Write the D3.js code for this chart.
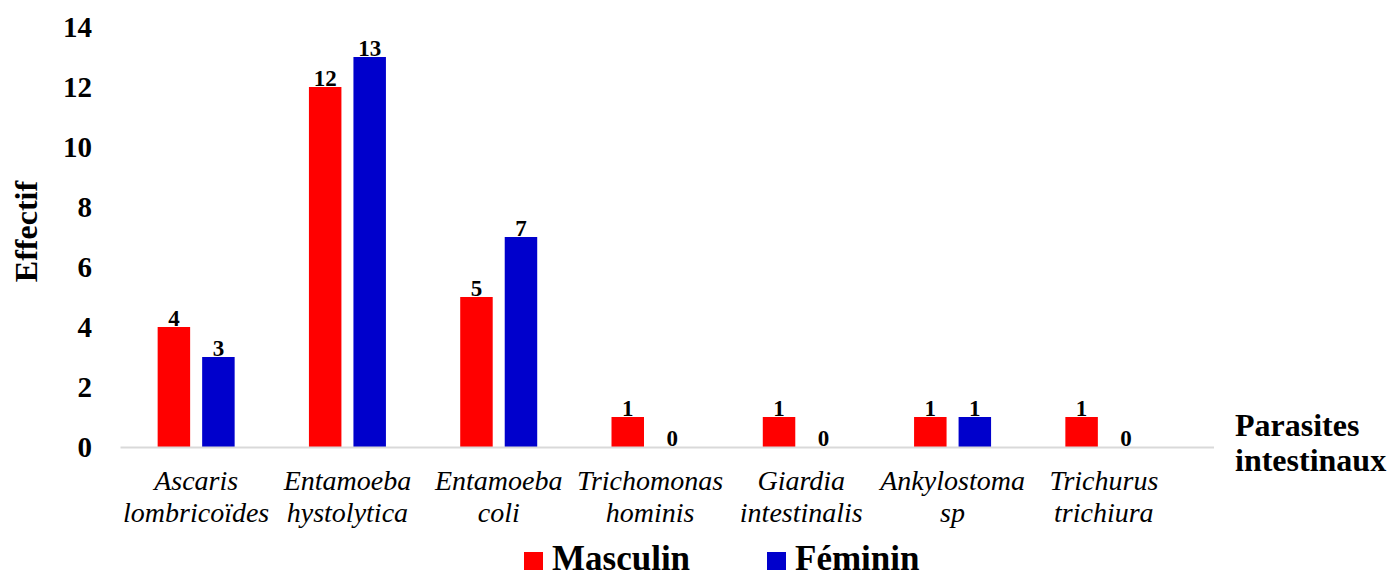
<!DOCTYPE html>
<html>
<head>
<meta charset="utf-8">
<script src="https://cdn.jsdelivr.net/npm/d3@7"></script>
<style>
  body { margin: 0; background: #fff; }
  text { font-family: "Liberation Serif", "Times New Roman", serif; }
</style>
</head>
<body>
<div id="chart"></div>
<script>
const categories = [
  ["Ascaris", "lombricoïdes"],
  ["Entamoeba", "hystolytica"],
  ["Entamoeba", "coli"],
  ["Trichomonas", "hominis"],
  ["Giardia", "intestinalis"],
  ["Ankylostoma", "sp"],
  ["Trichurus", "trichiura"]
];
const masculin = [4, 12, 5, 1, 1, 1, 1];
const feminin = [3, 13, 7, 0, 0, 1, 0];
const yTicks = [0, 2, 4, 6, 8, 10, 12, 14];
const seriesNames = ["Masculin", "Féminin"];
const colors = ["#FF0000", "#0000CC"];

const width = 1387, height = 577;
const plotLeft = 120.5, plotRight = 1179.5, plotTop = 27, plotBottom = 447;

const svg = d3.select("#chart").append("svg")
  .attr("width", width)
  .attr("height", height);

const x = d3.scaleBand()
  .domain(d3.range(categories.length))
  .range([plotLeft, plotRight]);

const inner = d3.scaleBand()
  .domain([0, 1])
  .range([x.bandwidth() / 2 - 38.5, x.bandwidth() / 2 + 38.5])
  .paddingInner(0.27);

const y = d3.scaleLinear()
  .domain([0, 14])
  .range([plotBottom, plotTop]);

// Y tick labels
svg.append("g")
  .selectAll("text")
  .data(yTicks)
  .enter()
  .append("text")
  .attr("x", 92)
  .attr("y", d => y(d))
  .attr("dy", "0.35em")
  .attr("text-anchor", "end")
  .attr("font-size", "29px")
  .attr("font-weight", "bold")
  .text(d => d);

// Bars
const data = categories.map((c, i) => ({ i, values: [masculin[i], feminin[i]] }));
const groups = svg.append("g")
  .selectAll("g")
  .data(data)
  .enter()
  .append("g")
  .attr("transform", d => `translate(${x(d.i)},0)`);

groups.selectAll("rect")
  .data(d => d.values)
  .enter()
  .append("rect")
  .attr("x", (v, k) => inner(k))
  .attr("y", v => y(v))
  .attr("width", inner.bandwidth())
  .attr("height", v => plotBottom - y(v))
  .attr("fill", (v, k) => colors[k]);

groups.selectAll(".bar-label")
  .data(d => d.values)
  .enter()
  .append("text")
  .attr("class", "bar-label")
  .attr("x", (v, k) => inner(k) + inner.bandwidth() / 2)
  .attr("y", v => y(v) - 1.5)
  .attr("text-anchor", "middle")
  .attr("font-size", "23px")
  .attr("font-weight", "bold")
  .text(v => v);

// Baseline
svg.append("line")
  .attr("x1", plotLeft)
  .attr("x2", 1214)
  .attr("y1", plotBottom + 0.5)
  .attr("y2", plotBottom + 0.5)
  .attr("stroke", "#d9d9d9")
  .attr("stroke-width", 2);

// Category labels
const catLabels = svg.append("g")
  .selectAll("text")
  .data(categories)
  .enter()
  .append("text")
  .attr("x", (d, i) => x(i) + x.bandwidth() / 2)
  .attr("y", 490)
  .attr("text-anchor", "middle")
  .attr("font-size", "28px")
  .attr("font-style", "italic");
catLabels.selectAll("tspan")
  .data(d => d)
  .enter()
  .append("tspan")
  .attr("x", function () { return d3.select(this.parentNode).attr("x"); })
  .attr("dy", (d, k) => k === 0 ? 0 : 32)
  .text(d => d);

// Axis titles
svg.append("text")
  .attr("transform", "translate(37,231.5) rotate(-90)")
  .attr("text-anchor", "middle")
  .attr("font-size", "32px")
  .attr("font-weight", "bold")
  .text("Effectif");

const xTitle = svg.append("text")
  .attr("x", 1235)
  .attr("y", 436)
  .attr("font-size", "32px")
  .attr("font-weight", "bold");
xTitle.append("tspan").attr("x", 1235).text("Parasites");
xTitle.append("tspan").attr("x", 1235).attr("dy", 35).text("intestinaux");

// Legend
const legendX = [524, 767];
const legend = svg.append("g")
  .selectAll("g")
  .data(seriesNames)
  .enter()
  .append("g")
  .attr("transform", (d, i) => `translate(${legendX[i]},552)`);
legend.append("rect")
  .attr("width", 19)
  .attr("height", 18)
  .attr("fill", (d, i) => colors[i]);
legend.append("text")
  .attr("x", 28)
  .attr("y", 18)
  .attr("font-size", "35px")
  .attr("font-weight", "bold")
  .text(d => d);
</script>
</body>
</html>
